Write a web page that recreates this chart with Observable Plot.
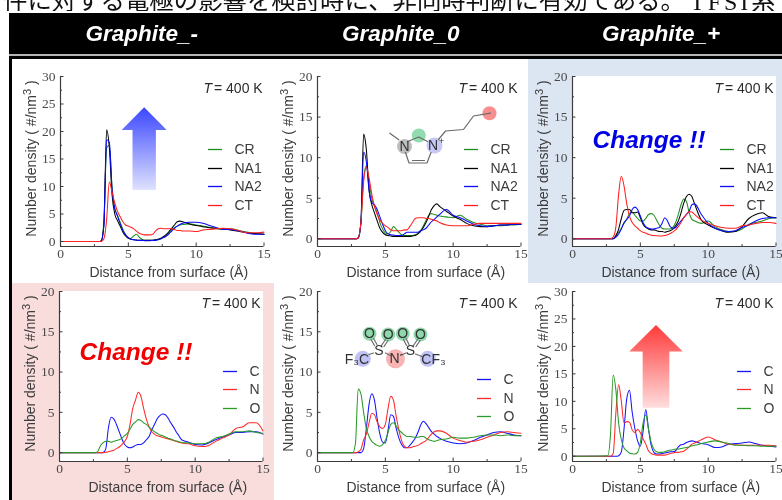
<!DOCTYPE html>
<html lang="ja">
<head>
<meta charset="utf-8">
<script src="https://cdn.jsdelivr.net/npm/d3@7"></script>
<script src="https://cdn.jsdelivr.net/npm/@observablehq/plot@0.6"></script>
<style>
html,body{margin:0;padding:0;background:#fff;width:782px;height:500px;overflow:hidden}
#root{position:relative;width:782px;height:500px;overflow:hidden;font-family:"Liberation Sans",Arial,sans-serif;filter:blur(.35px)}
.box{position:absolute}
.head{position:absolute;top:19px;color:#fff;font:italic bold 22.5px "Liberation Sans",Arial,sans-serif;line-height:30px;white-space:nowrap}
svg{position:absolute;background:transparent;overflow:visible}
</style>
</head>
<body>
<div id="root"></div>
<script>
// ---------- shared distance grid (Å) ----------
const grid = [
  0,2.6,2.8,3.0,3.2,3.4,3.6,3.8,4.0,4.2,
  4.4,4.6,4.8,5.0,5.2,5.4,5.6,5.8,6.0,6.2,
  6.4,6.6,6.8,7.0,7.2,7.4,7.6,7.8,8.0,8.2,
  8.4,8.6,8.8,9.0,9.5,10,10.5,11,11.5,12,
  12.5,13,13.5,14,14.5,15];

// ---------- Graphite_- cation ----------
const negCR = [0,0,0,.1,4,17,17.5,10,6,4.8, 3.5,2.2,1.2,.6,.6,1,1.3,.8,.4,.2, .2,.2,.2,.3,.4,.5,.8,1.1,1.6,2.1, 2.5,2.8,3,3.1,3.2,3,2.8,2.6,2.3,2.2, 2.3,2.1,1.8,1.6,1.4,1.3];
const negNA1 = [0,0,0,.1,3,20.3,17,8.5,5,3.8, 2.8,1.7,1,.6,.4,.3,.25,.2,.2,.2, .2,.2,.2,.3,.4,.6,.9,1.3,1.8,2.4, 3,3.6,3.7,3.6,3.2,2.9,2.7,2.5,2.4,2.3, 2.1,1.9,1.7,1.5,1.4,1.3];
const negNA2 = [0,0,0,.1,3,18.5,18,9.5,6,4.6, 3.2,2,1.2,.7,.4,.3,.25,.2,.2,.15, .15,.15,.2,.2,.3,.5,.7,1,1.4,1.9, 2.4,2.8,3.1,3.3,3.5,3.5,3.3,2.9,2.5,2.2, 2.2,2,1.7,1.4,1.3,1.3];
const negCT = [0,0,0,0,.5,4,10.8,9,7,5.5, 4.5,3.6,3,2.8,2.6,2.3,1.9,1.5,1.3,1.2, 1.2,1.2,1.3,1.9,2.3,2.4,2.3,2.3,2.3,2.3, 2.2,2,2,1.9,1.9,1.8,2.1,2.2,2.3,2.4, 2.3,2.1,1.7,1.6,1.6,1.7];
// ---------- Graphite_0 cation ----------
const zeroCR = [0,0,0,.1,2,7.5,9,7,5,4, 3.2,2,1.2,.7,.6,.9,1.5,1.2,.8,.5, .4,.4,.4,.4,.5,.7,1,1.6,2.3,2.9, 3.1,3,2.9,2.8,2.7,2.6,2.9,2.4,2,1.8, 1.6,1.6,1.6,1.7,1.7,1.8];
const zeroNA1 = [0,0,0,.1,2,12.9,11,6,4.2,3.2, 2.2,1.3,.8,.5,.4,.35,.3,.3,.3,.3, .3,.3,.3,.35,.4,.6,.9,1.4,2,2.8, 3.6,4.1,4.3,4,3.4,2.8,2.4,1.9,1.6,1.5, 1.5,1.6,1.7,1.7,1.8,1.8];
const zeroNA2 = [0,0,0,.1,2,10.7,9.5,6,4.5,4.2, 3.6,2.7,1.8,1,.6,.5,.45,.4,.4,.4, .6,.8,.8,.8,.8,.8,1,1.1,1.3,1.7, 2.1,2.4,2.7,3,3.6,2.9,2.6,2.2,1.8,1.6, 1.5,1.6,1.7,1.7,1.8,1.8];
const zeroCT = [0,0,0,.1,2,7,8.8,7.5,5.5,4, 3,2.3,1.9,1.6,1.4,1.1,1,1,1,1, 1.1,1.1,1.5,2,2.5,2.6,2.6,2.6,2.5,2.5, 2.4,2.3,2.2,2,1.7,1.6,1.6,1.6,1.8,1.9, 1.9,1.9,1.9,1.9,1.9,1.9];
// ---------- Graphite_+ cation ----------
const posCR = [0,0,0,0,.3,.8,1.3,1.9,2.4,3.1, 3.3,2.9,2.5,2.2,2.2,2.5,3,3.1,2.9,2.3, 1.7,1.3,1.2,1.2,1.2,1.4,2,3,4.2,4.9, 4.6,3.2,2.4,2.2,1.9,2.2,1.5,1.1,.9,.9, 1.2,1.8,2,2.2,2.5,2.6];
const posNA1 = [0,0,0,0,.4,1.2,2.5,3.5,3.6,3.6, 3.2,3.2,3.3,2.6,1.8,1.4,1.2,1.1,1.1,1, .9,.9,.8,.9,1,1.2,1.6,2.2,3.2,4.4, 5.2,5.5,5.2,4.3,2.3,1.7,1.3,1,.8,.9, 1.5,2.5,3,3.2,2.7,2.6];
const posNA2 = [0,0,0,0,.2,.6,1.2,2,2.4,2.8, 3.6,3.9,3.6,2.8,2,1.5,1.3,1.2,1.2,1.3, 1.4,1.9,2.6,2.2,1.5,1.3,1.4,1.8,2.2,2.6, 3,3.4,4.2,4.3,3,1.9,1.3,1,.9,1, 1.4,1.7,2.2,2.5,2.6,2.6];
const posCT = [0,0,0,.2,1.5,5.5,7.7,6.5,4.3,2.8, 2,1.6,1.3,1,.8,.7,.55,.45,.4,.37, .35,.35,.4,.5,.65,.85,1.1,1.5,2,2.6, 3,3.35,3.3,3,2.3,1.9,1.6,1.4,1.3,1.3, 1.6,1.7,1.9,2,2,1.9];
// ---------- Graphite_- anion ----------
const negC = [0,0,0,0,0,.4,3,4.4,4.2,3.5, 2.6,1.7,1,.7,.6,.7,.9,1,1,1.2, 1.6,2,2.8,3.5,4.2,4.6,4.8,4.7,4.3,3.7, 3.2,2.6,2.1,1.6,1.3,1,.95,1.2,1.6,1.9, 2.2,2.5,2.5,2.6,2.6,2.3];
const negN = [0,0,0,0,0,.05,.1,.2,.3,.5, .7,1,1.4,2,3.5,5.5,6.5,7.5,7,5.5, 4.2,3.2,2.6,2.3,2.1,2,1.9,1.8,1.7,1.6, 1.5,1.4,1.3,1.2,1.1,.85,.75,.9,1.4,1.8, 2.2,3,3.2,3.7,3.7,2.7];
const negO = [0,0,.1,.8,1.2,1.4,1.4,1.3,1.4,1.5, 1.6,1.8,2.1,2.4,2.9,3.5,3.8,4.1,4,3.7, 3.5,3.2,2.9,2.6,2.4,2.2,2.1,1.95,1.8,1.7, 1.55,1.45,1.35,1.25,1.2,1.1,1.1,1.3,1.8,2, 2.3,2.6,2.6,2.7,2.5,2.4];
// ---------- Graphite_0 anion ----------
const zeroC = [0,0,0,0,0,.5,3,6,7.3,6.5, 4.2,2.3,1.3,1.2,2.8,4.7,4.5,3,1.8,1, .6,.6,.9,1.3,1.8,2.5,3.4,3.9,3.6,3.1, 2.6,2.3,2,1.8,1.4,1.2,1.1,1.2,1.5,1.9, 2.2,2.5,2.6,2.4,2.2,2.1];
const zeroN = [0,0,0,.1,.4,1.6,2.3,3.7,4.9,4.7, 3.8,3.2,3,3.5,5.5,7,6.5,4.5,2.8,1.5, .8,.6,.6,.7,.8,.9,1.1,1.3,1.5,1.9, 2.3,2.6,2.7,2.7,2.4,1.8,1.5,1.3,1.4,1.6, 1.9,2.2,2.5,2.6,2.5,2.4];
const zeroO = [0,0,1.2,7.9,7.3,5,3,2,1.4,1.1, .9,.8,1,1.5,2.5,3.5,3.7,3.3,2.8,2.5, 2.2,2,2,1.95,1.9,1.9,2,2,1.8,1.6, 1.5,1.4,1.5,1.6,1.7,1.9,1.8,1.8,1.9,2.1, 2.2,2.2,2.1,2.2,2.1,2.1];
// ---------- Graphite_+ anion ----------
const posC = [0,0,0,0,0,.1,.8,5,10.5,12, 8,5,2.8,1.8,4.5,8.5,5,2,.7,.4, .4,.5,.6,.7,.8,.8,1,1.7,2.1,2.2, 2.5,2.7,2.8,2.7,2.3,2.1,1.6,1.7,2.2,2.3, 2.4,2.6,2.3,2,1.8,1.7];
const posN = [0,0,0,.5,8,13,10,6,6.3,6.2, 4.8,4.3,4.9,4.3,3.2,2.2,1,.5,.3,.2, .2,.2,.2,.3,.5,.6,.7,.7,.8,.9, 1.3,1.7,2.2,2.4,3,3.5,3,2.6,2.2,2.1, 2,2,2,2,2,1.9];
const posO = [0,.1,4,14.8,12,6,3,1.5,1,.6, .45,.4,.7,2.5,6,7.5,5,2.5,1.3,.8, .7,.7,.8,1,1.1,1.2,1.3,1.3,1.4,1.5, 1.6,1.7,1.9,2,2.3,2.6,2.8,2.6,2.3,2, 2,1.9,1.9,1.8,1.8,1.8];

// ---------- labels and styling ----------
const headers = ["Graphite_-","Graphite_0","Graphite_+"];
const cationLabels = ["CR","NA1","NA2","CT"];
const anionLabels = ["C","N","O"];
const cationColors = ["#1f8f1f","#000000","#0a0aff","#ff2020"];
const anionColors = ["#1414ff","#ff2a2a","#2a9a2a"];   // C, N, O
const xLabel = "Distance from surface (Å)";
const yLabel = "Number density ( #/nm3 )";
const xTicks = [0,5,10,15], xMinor = [2.5,7.5,12.5];
const ink = "#3c3c3c";

const W = 203.5, H = 170, ML = 50, MT = 12, MR = 22, MB = 40;
const panels = [
  {l:60,  t:76,  ymax:30, ymin:-.91, labels:cationLabels, colors:cationColors, series:[negCR,negNA1,negNA2,negCT], order:[0,1,2,3], legX:208, legY:[149,168,186,205], tx:203},
  {l:317, t:76,  ymax:20, ymin:-.95, labels:cationLabels, colors:cationColors, series:[zeroCR,zeroNA1,zeroNA2,zeroCT], order:[0,1,2,3], legX:464, legY:[149,168,186,205], tx:458},
  {l:572, t:76,  ymax:20, ymin:-.95, labels:cationLabels, colors:cationColors, series:[posCR,posNA1,posNA2,posCT], order:[0,1,2,3], legX:720, legY:[149,168,186,205], tx:714},
  {l:59,  t:291, ymax:20, ymin:-1.1, labels:anionLabels, colors:anionColors, series:[negC,negN,negO], order:[0,1,2], legX:223, legY:[371,389,408], tx:201},
  {l:317, t:291, ymax:20, ymin:-1.1, labels:anionLabels, colors:anionColors, series:[zeroC,zeroN,zeroO], order:[0,1,2], legX:477, legY:[379,398,416], tx:458},
  {l:572, t:291, ymax:30, ymin:-.96, labels:anionLabels, colors:anionColors, series:[posC,posN,posO], order:[0,1,2], legX:737, legY:[371,389,408], tx:714}
];

const root = document.getElementById("root");
function box(css, parent=root){const d=document.createElement("div");d.className="box";d.style.cssText=css;parent.appendChild(d);return d;}

// ---------- page furniture ----------
const jp = box('left:3px;top:-16px;white-space:nowrap;font:400 24.4px/30px "Noto Sans CJK JP";color:#111');
jp.textContent = "件に対する電極の影響を検討時に、非同時判断に有効である。";
const jp2 = box('left:690px;top:-15px;white-space:nowrap;font:400 24px/30px "Liberation Serif";letter-spacing:3px;color:#111');
jp2.innerHTML = 'TFSI<span style="font-family:\'Noto Sans CJK JP\';letter-spacing:0">系</span>';
box('left:0;top:11px;width:782px;height:2px;background:#fff');
box('left:9px;top:13px;width:773px;height:41px;background:#000');
box('left:9px;top:54px;width:773px;height:1.5px;background:#b5b5b5');
box('left:9px;top:56px;width:773px;height:3px;background:#000');
box('left:9px;top:56px;width:2.5px;height:444px;background:#000');
box('left:528px;top:59px;width:254px;height:224px;background:#dce6f2');
box('left:572px;top:76px;width:203.5px;height:170px;background:#fff');
box('left:12px;top:283px;width:262px;height:217px;background:#f9dcdc');
box('left:59px;top:291px;width:203.5px;height:171px;background:#fff');
[[85.5,0],[342,1],[602,2]].forEach(([x,i])=>{const h=document.createElement("div");h.className="head";h.style.left=x+"px";h.textContent=headers[i];root.appendChild(h);});

// gradient arrows
box('left:121.7px;top:107.3px;width:45px;height:82.7px;background:linear-gradient(#3a46ff,#dfe2ff);clip-path:polygon(50% 0,100% 27.4%,76% 27.4%,76% 100%,24% 100%,24% 27.4%,0 27.4%)');
box('left:629.3px;top:325px;width:53.4px;height:82.7px;background:linear-gradient(#ff3a3a,#ffdede);clip-path:polygon(50% 0,100% 32%,75% 32%,75% 100%,25% 100%,25% 32%,0 32%)');

// ---------- the six panels ----------
panels.forEach(p=>{
  const tick = (vals,len)=>Plot.tickX(vals,{x:d=>d,insetTop:H-len,stroke:ink,strokeWidth:1});
  const ytick = (vals,len)=>Plot.tickY(vals,{y:d=>d,insetRight:W-len,stroke:ink,strokeWidth:1});
  const yT = d3.range(0,p.ymax+1,5), yM = d3.range(2.5,p.ymax,5);
  const svg = Plot.plot({
    width:ML+W+MR, height:MT+H+MB,
    marginLeft:ML, marginRight:MR, marginTop:MT, marginBottom:MB,
    x:{domain:[0,15]},
    y:{domain:[p.ymin,p.ymax]},
    style:{background:"transparent",overflow:"visible"},
    marks:[
      ...p.order.map(i=>Plot.line(p.series[i],{x:grid,y:p.series[i],stroke:p.colors[i],strokeWidth:1.05,curve:"monotone-x"})),
      Plot.ruleX([0],{stroke:ink,strokeWidth:1.2}),
      Plot.ruleY([p.ymin],{stroke:ink,strokeWidth:1.2}),
      tick(xTicks.slice(1),3.5), tick(xMinor,2),
      ytick(yT,3.5), ytick(yM,2),
      Plot.axisX(xTicks,{anchor:"bottom",tickSize:0,tickPadding:2,label:null,fill:"#4a4a4a"}),
      Plot.axisY(yT,{anchor:"left",tickSize:0,tickPadding:5,label:null,fill:"#4a4a4a"}),
      Plot.text([xLabel],{text:d=>d,frameAnchor:"bottom",lineAnchor:"middle",dx:6.5,dy:26.5,fontFamily:"Liberation Sans",fontSize:14,fill:ink}),
      Plot.text([yLabel],{text:d=>d,frameAnchor:"left",textAnchor:"middle",lineAnchor:"middle",rotate:-90,dx:-29,dy:-3,fontFamily:"Liberation Sans",fontSize:14,fill:ink})
    ]
  });
  svg.style.left=(p.l-ML)+"px";
  svg.style.top=(p.t-MT)+"px";
  // serif numerals on the axes, and the superscript in the y label
  svg.querySelectorAll('g[aria-label$="axis tick label"] text').forEach(t=>{
    t.style.fontFamily='"Liberation Serif"';
    t.style.fontSize="13.5px";
    t.style.fontVariant="normal";
  });
  svg.querySelectorAll("text").forEach(t=>{
    if(t.textContent===yLabel){
      t.innerHTML='Number density ( #/nm<tspan dy="-5" font-size="11">3</tspan><tspan dy="5"> )</tspan>';
    }
  });
  root.appendChild(svg);
});

// ---------- overlay: legends, temperature labels, callouts, molecules ----------
const tLabels = panels.map(p=>({x:p.tx, y:p.t+12}));
const legendLines = panels.flatMap(p=>p.labels.map((l,i)=>({x1:p.legX,x2:p.legX+14,y:p.legY[i],c:p.colors[i]})));
const legendText = panels.flatMap(p=>p.labels.map((l,i)=>({x:p.legX+26,y:p.legY[i],t:l})));
const changes = [{x:592,y:140,t:"Change !!",c:"#0000e6"},{x:79,y:352,t:"Change !!",c:"#f00000"}];

const circles = [
  {x:404,y:146,r:7.5,c:"#bdbdbd"},{x:418.3,y:135,r:7,c:"#93dcb0"},{x:434,y:145,r:8,c:"#c6c8f6"},{x:489,y:112.7,r:7,c:"#f98e8e"},
  {x:369,y:333.3,r:7,c:"#8fd8ac"},{x:387.7,y:334,r:7,c:"#8fd8ac"},{x:402.3,y:333.3,r:7,c:"#8fd8ac"},{x:420,y:334,r:7,c:"#8fd8ac"},
  {x:395,y:358.3,r:9.5,c:"#f9b3b3"},{x:362.3,y:358.3,r:8,c:"#c0c2f6"},{x:427.3,y:358.3,r:8,c:"#c0c2f6"}
];
const bonds = [
  [[389.3,132.7],[398.3,139.3]],
  [[407,141],[418.3,136.5],[427,141]],
  [[405,152],[408.5,162.5],[426.5,162.5],[430.5,152]],
  [[412,160],[424,160]],
  [[438,139],[445,130.5],[463,129],[473,115.5],[490,112.7]],
  [[368.5,354],[373,352.5]],[[385,352.5],[390,355]],[[400,355],[405.5,352.5]],[[415,353.5],[421.5,356]],
  [[374,345],[370.5,339]],[[376.5,344],[373,338]],
  [[381,345],[385,339]],[[383.5,346],[387.5,340]],
  [[406,345],[403,339]],[[408.5,344],[405.5,338]],
  [[413,345],[417,339]],[[415.5,346],[419.5,340]]
].map((pts,id)=>pts.map(([x,y])=>({x,y,id}))).flat();
const atoms = [
  {x:404,y:146.5,t:"N"},{x:432.5,y:145.5,t:"N"},
  {x:369,y:333.5,t:"O"},{x:387.7,y:334,t:"O"},{x:402.3,y:333.5,t:"O"},{x:420,y:334,t:"O"},
  {x:378.3,y:350,t:"S"},{x:410,y:350,t:"S"},{x:394,y:358.5,t:"N"},
  {x:356.5,y:359,t:"F₃C"},{x:433,y:359.5,t:"CF₃"}
];
const charges = [{x:441,y:141,t:"+"},{x:401,y:354,t:"-"}];

const overlay = Plot.plot({
  width:782,height:500,margin:0,
  x:{domain:[0,782],range:[0,782],axis:null},
  y:{domain:[0,500],range:[0,500],axis:null},
  r:{type:"identity"},
  style:{background:"transparent",left:"0",top:"0"},
  marks:[
    Plot.dot(circles,{x:"x",y:"y",r:"r",fill:"c",stroke:"none"}),
    Plot.line(bonds,{x:"x",y:"y",z:"id",stroke:"#6a6a6a",strokeWidth:1.2}),
    Plot.text(atoms,{x:"x",y:"y",text:"t",fontFamily:"Liberation Sans",fontSize:14,fill:"#333"}),
    Plot.text(charges,{x:"x",y:"y",text:"t",fontFamily:"Liberation Sans",fontSize:9,fill:"#333"}),
    Plot.ruleY(legendLines,{x1:"x1",x2:"x2",y:"y",stroke:"c",strokeWidth:1.3}),
    Plot.text(legendText,{x:"x",y:"y",text:"t",textAnchor:"start",fontFamily:"Liberation Sans",fontSize:14,fill:ink}),
    Plot.text(tLabels,{x:"x",y:"y",text:()=>"T",textAnchor:"start",fontFamily:"Liberation Sans",fontStyle:"italic",fontSize:14,fill:"#2b2b2b"}),
    Plot.text(tLabels,{x:d=>d.x+10.5,y:"y",text:()=>"= 400 K",textAnchor:"start",fontFamily:"Liberation Sans",fontSize:14,fill:"#2b2b2b"}),
    Plot.text(changes,{x:"x",y:"y",text:"t",fill:"c",textAnchor:"start",fontFamily:"Liberation Sans",fontStyle:"italic",fontWeight:"bold",fontSize:24.5})
  ]
});
overlay.style.left="0px";overlay.style.top="0px";
root.appendChild(overlay);
</script>
</body>
</html>
